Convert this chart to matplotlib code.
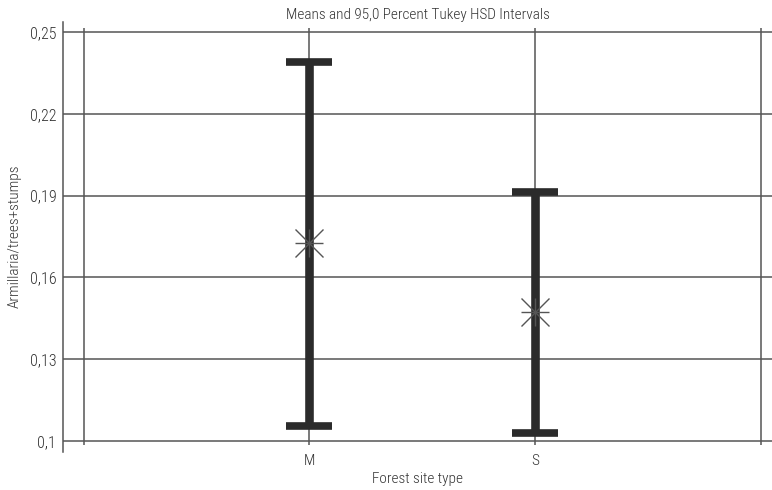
import matplotlib
matplotlib.use("Agg")
import matplotlib.pyplot as plt

plt.rcParams['font.family'] = ['Roboto Condensed', 'Liberation Sans Narrow', 'Roboto', 'DejaVu Sans']
plt.rcParams['font.weight'] = 'light'
plt.rcParams['axes.labelweight'] = 'light'
plt.rcParams['axes.titleweight'] = 'light'

# Tukey HSD intervals
groups = ["M", "S"]
means = [0.1727, 0.1472]
lower = [0.1055, 0.1027]
upper = [0.2390, 0.1914]
yticks = [0.10, 0.13, 0.16, 0.19, 0.22, 0.25]
ytick_labels = ["0,1", "0,13", "0,16", "0,19", "0,22", "0,25"]

txt = "#333333"
grid = "#555555"
bar = "#2b2b2b"

fig = plt.figure(figsize=(7.72, 4.9), dpi=100)
ax = fig.add_axes([0.082, 0.078, 0.918, 0.878])

xpos = [1, 2]
ax.set_xlim(-0.0897, 3.05)
ax.set_ylim(0.09596, 0.2539)

# horizontal grid lines at ticks, vertical lines at 0..3
for y in yticks:
    ax.axhline(y, color=grid, lw=1.1, zorder=1)
ax.vlines([0, 1, 2, 3], 0.0985, 0.2515, color=grid, lw=1.1, zorder=1)

yerr = [[m - lo for m, lo in zip(means, lower)],
        [hi - m for m, hi in zip(means, upper)]]
ax.errorbar(xpos, means, yerr=yerr, fmt="none", ecolor=bar, elinewidth=6.2,
            capsize=16.9, capthick=5.5, zorder=3)

# asterisk markers for the means
ax.plot(xpos, means, ls="none", marker="+", ms=20.5, mew=1.0, color="#555555", zorder=4)
ax.plot(xpos, means, ls="none", marker="x", ms=20.5, mew=1.0, color="#555555", zorder=4)

for s in ["top", "right", "bottom"]:
    ax.spines[s].set_visible(False)
ax.spines["left"].set_color(grid)
ax.spines["left"].set_linewidth(1.1)

ax.set_yticks(yticks)
ax.set_yticklabels(ytick_labels)
ax.set_xticks(xpos)
ax.set_xticklabels(groups)
ax.tick_params(axis="y", length=0, pad=5, labelsize=11.5, labelcolor=txt)
ax.tick_params(axis="x", length=0, pad=1.5, labelsize=11, labelcolor=txt)

ax.set_xlabel("Forest site type", fontsize=11, color=txt, labelpad=3)
ax.set_ylabel("Armillaria/trees+stumps", fontsize=11, color=txt, labelpad=6)
ax.set_title("Means and 95,0 Percent Tukey HSD Intervals", fontsize=11, color=txt, pad=-0.5)

fig.savefig("out.png", dpi=100)
